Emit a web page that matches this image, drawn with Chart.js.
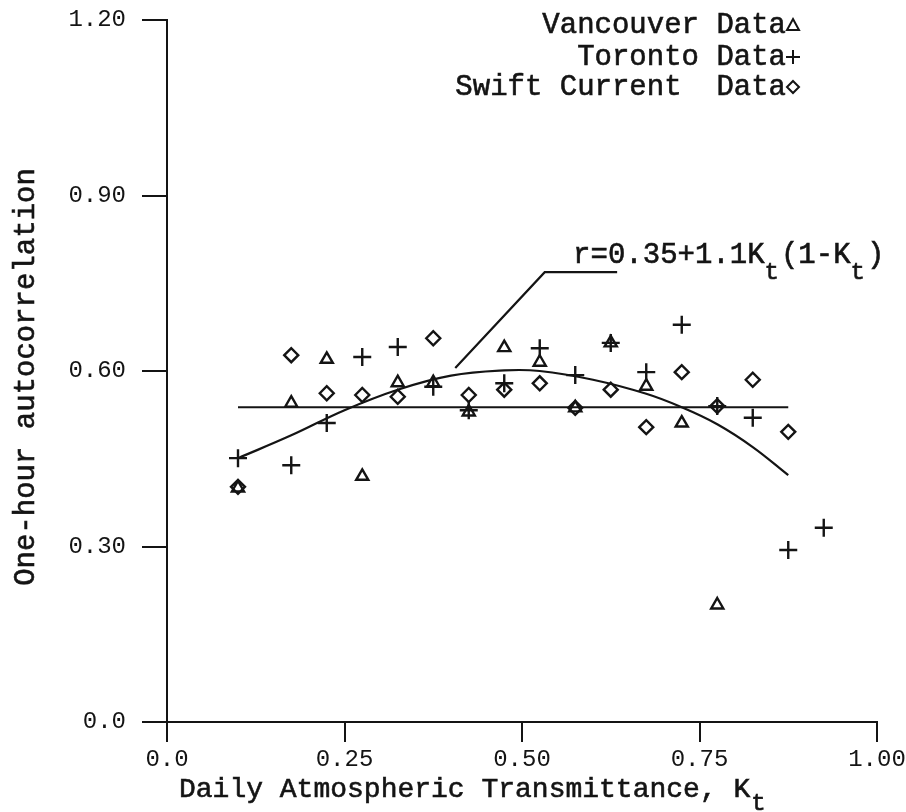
<!DOCTYPE html>
<html>
<head>
<meta charset="utf-8">
<script src="https://cdn.jsdelivr.net/npm/chart.js@4"></script>
<style>
  html, body { margin: 0; padding: 0; background: #fff; }
  #wrap { width: 906px; height: 812px; }
</style>
</head>
<body>
<div id="wrap"><canvas id="myChart" width="906" height="812"></canvas></div>
<script>
// data
const vanKt  = [0.10, 0.175, 0.225, 0.275, 0.325, 0.375, 0.425, 0.475, 0.525, 0.575, 0.625, 0.675, 0.725, 0.775];
const vanR   = [0.40, 0.545, 0.62, 0.42, 0.58, 0.58, 0.53, 0.64, 0.615, 0.537, 0.648, 0.574, 0.511, 0.20];

const torKt  = [0.10, 0.175, 0.225, 0.275, 0.325, 0.375, 0.425, 0.475, 0.525, 0.575, 0.625, 0.675, 0.725, 0.775, 0.825, 0.875, 0.925];
const torR   = [0.451, 0.439, 0.511, 0.624, 0.641, 0.573, 0.533, 0.579, 0.639, 0.593, 0.648, 0.598, 0.679, 0.54, 0.52, 0.294, 0.332];

const swKt   = [0.10, 0.175, 0.225, 0.275, 0.325, 0.375, 0.425, 0.475, 0.525, 0.575, 0.625, 0.675, 0.725, 0.775, 0.825, 0.875];
const swR    = [0.402, 0.627, 0.562, 0.559, 0.556, 0.656, 0.559, 0.568, 0.579, 0.537, 0.568, 0.504, 0.598, 0.54, 0.585, 0.496];

// fitted curve as drawn
const fitKt  = [0.10, 0.175, 0.25, 0.325, 0.40, 0.475, 0.525, 0.60, 0.675, 0.725, 0.775, 0.825, 0.875];
const fitR   = [0.451, 0.49, 0.533, 0.568, 0.592, 0.601, 0.600, 0.585, 0.561, 0.538, 0.509, 0.470, 0.422];

// constant mean line
const meanKt = [0.10, 0.875];
const meanR  = [0.538, 0.538];

// leader line to the equation label
const leadKt = [0.406, 0.532, 0.634];
const leadR  = [0.605, 0.769, 0.769];

const xTicks = [0, 0.25, 0.5, 0.75, 1.0];
const xTickLabels = ['0.0', '0.25', '0.50', '0.75', '1.00'];
const yTicks = [0, 0.3, 0.6, 0.9, 1.2];
const yTickLabels = ['0.0', '0.30', '0.60', '0.90', '1.20'];

const FONT = '"Liberation Mono", "DejaVu Sans Mono", monospace';
const INK = '#141414';

function pts(xs, ys) {
    return xs.map((x, i) => ({ x: x, y: ys[i] }));
}

// typed text with a light stroke so it reads as heavy as the scan
function typed(ctx, s, x, y) {
    ctx.fillText(s, x, y);
    ctx.strokeText(s, x, y);
}

// legend, axis titles and equation drawn by hand
const textPlugin = {
    id: 'typedText',
    afterDraw(chart) {
        const ctx = chart.ctx;
        const sx = chart.scales.x, sy = chart.scales.y;
        ctx.save();
        ctx.fillStyle = INK;
        ctx.strokeStyle = INK;

        // legend
        ctx.font = '29px ' + FONT;
        ctx.textAlign = 'right';
        ctx.textBaseline = 'middle';
        const rows = [['Vancouver Data', 25, 'tri'], ['Toronto Data', 57, 'plus'], ['Swift Current  Data', 87, 'dia']];
        rows.forEach(r => {
            ctx.lineWidth = 0.6;
            typed(ctx, r[0], 786, r[1]);
            const cx = 793, cy = r[1];
            ctx.lineWidth = 2;
            ctx.beginPath();
            if (r[2] === 'tri') {
                ctx.moveTo(cx, cy - 6); ctx.lineTo(cx + 6, cy + 5); ctx.lineTo(cx - 6, cy + 5); ctx.closePath();
            } else if (r[2] === 'plus') {
                ctx.moveTo(cx - 7, cy); ctx.lineTo(cx + 7, cy); ctx.moveTo(cx, cy - 7); ctx.lineTo(cx, cy + 7);
            } else {
                ctx.moveTo(cx, cy - 6); ctx.lineTo(cx + 6, cy); ctx.lineTo(cx, cy + 6); ctx.lineTo(cx - 6, cy); ctx.closePath();
            }
            ctx.stroke();
        });
        ctx.lineWidth = 0.6;

        // y title
        ctx.save();
        ctx.translate(26, 377);
        ctx.rotate(-Math.PI / 2);
        ctx.textAlign = 'center';
        typed(ctx, 'One-hour autocorrelation', 0, 0);
        ctx.restore();

        // x title with subscript
        ctx.textAlign = 'left';
        ctx.font = '28px ' + FONT;
        const xt = 'Daily Atmospheric Transmittance, K';
        typed(ctx, xt, 179, 790);
        let w = ctx.measureText(xt).width;
        ctx.font = '24px ' + FONT;
        typed(ctx, 't', 179 + w + 1, 804);

        // equation label
        let ex = sx.getPixelForValue(0.572);
        const ey = sy.getPixelForValue(0.798);
        const parts = [['r=0.35+1.1K', 0], ['t', 1], ['(1-K', 0], ['t', 1], [')', 0]];
        parts.forEach(p => {
            ctx.font = (p[1] ? '24px ' : '29px ') + FONT;
            typed(ctx, p[0], ex, ey + (p[1] ? 17 : 0));
            ex += ctx.measureText(p[0]).width + (p[1] ? 2 : 0);
        });
        ctx.restore();
    }
};

const data = {
    datasets: [
        {
            label: 'Vancouver Data',
            data: pts(vanKt, vanR),
            pointStyle: 'triangle',
            pointRadius: 7,
            borderColor: INK,
            backgroundColor: 'rgba(0,0,0,0)',
            pointBorderWidth: 2.4,
            showLine: false
        },
        {
            label: 'Toronto Data',
            data: pts(torKt, torR),
            pointStyle: 'cross',
            pointRadius: 9,
            borderColor: INK,
            pointBorderWidth: 2.4,
            showLine: false
        },
        {
            label: 'Swift Current Data',
            data: pts(swKt, swR),
            pointStyle: 'rectRot',
            pointRadius: 7,
            borderColor: INK,
            backgroundColor: 'rgba(0,0,0,0)',
            pointBorderWidth: 2.4,
            showLine: false
        },
        {
            label: 'fit',
            data: pts(fitKt, fitR),
            showLine: true,
            pointRadius: 0,
            borderColor: INK,
            borderWidth: 2.2,
            tension: 0.4
        },
        {
            label: 'mean',
            data: pts(meanKt, meanR),
            showLine: true,
            pointRadius: 0,
            borderColor: INK,
            borderWidth: 2.2
        },
        {
            label: 'leader',
            data: pts(leadKt, leadR),
            showLine: true,
            pointRadius: 0,
            borderColor: INK,
            borderWidth: 2.2
        }
    ]
};

const config = {
    type: 'scatter',
    data,
    options: {
        responsive: false,
        animation: false,
        layout: { padding: { top: 20, right: 29, left: 0, bottom: 0 } },
        plugins: { legend: { display: false }, tooltip: { enabled: false } },
        scales: {
            x: {
                type: 'linear',
                min: 0,
                max: 1,
                afterFit(scale) {
                    scale.height = 90;
                    scale.paddingLeft = 0;
                    scale.paddingRight = 0;
                },
                afterBuildTicks(scale) { scale.ticks = xTicks.map(v => ({ value: v })); },
                ticks: {
                    font: { family: FONT, size: 24 },
                    color: INK,
                    padding: 3,
                    maxRotation: 0,
                    callback: (v) => xTickLabels[xTicks.indexOf(v)]
                },
                grid: { drawOnChartArea: false, drawTicks: true, tickLength: 20, color: INK, lineWidth: 2 },
                border: { display: true, color: INK, width: 2 }
            },
            y: {
                type: 'linear',
                min: 0,
                max: 1.2,
                afterFit(scale) {
                    scale.width = 167;
                    scale.paddingTop = 0;
                    scale.paddingBottom = 0;
                },
                afterBuildTicks(scale) { scale.ticks = yTicks.map(v => ({ value: v })); },
                ticks: {
                    font: { family: FONT, size: 24 },
                    color: INK,
                    padding: 16,
                    callback: (v) => yTickLabels[yTicks.indexOf(v)]
                },
                grid: { drawOnChartArea: false, drawTicks: true, tickLength: 25, color: INK, lineWidth: 2 },
                border: { display: true, color: INK, width: 2 }
            }
        }
    },
    plugins: [textPlugin]
};

const myChart = new Chart(document.getElementById('myChart'), config);
</script>
</body>
</html>
